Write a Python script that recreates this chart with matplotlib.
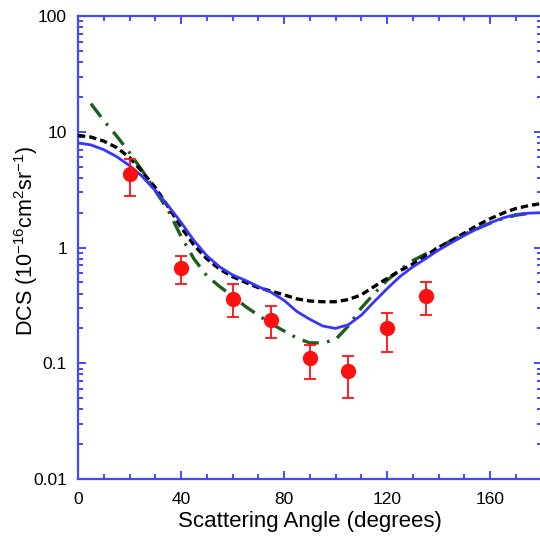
import matplotlib
matplotlib.use("Agg")
import matplotlib.pyplot as plt
from matplotlib.ticker import LogLocator, MultipleLocator, FixedFormatter, FixedLocator

plt.rcParams["font.family"] = ["Liberation Sans", "DejaVu Sans"]
plt.rcParams["mathtext.default"] = "regular"

# theory curves
angle = [0, 5, 10, 15, 20, 25, 30, 35, 40, 45, 50, 55, 60, 65, 70, 75, 80, 85, 90,
         95, 100, 105, 110, 115, 120, 125, 130, 135, 140, 145, 150, 155, 160, 165,
         170, 175, 180]
dcs_blue = [8.0, 7.7, 7.0, 6.1, 5.1, 4.1, 3.1, 2.3, 1.65, 1.15, 0.85, 0.68, 0.58,
            0.52, 0.46, 0.41, 0.35, 0.28, 0.24, 0.21, 0.2, 0.215, 0.26, 0.34, 0.44,
            0.56, 0.68, 0.8, 0.95, 1.1, 1.27, 1.45, 1.63, 1.8, 1.93, 1.98, 2.0]
dcs_black = [9.3, 9.0, 8.3, 7.3, 6.0, 4.5, 3.3, 2.25, 1.5, 1.05, 0.8, 0.65, 0.56,
             0.5, 0.45, 0.42, 0.39, 0.36, 0.345, 0.34, 0.34, 0.355, 0.39, 0.46,
             0.54, 0.63, 0.72, 0.85, 1.0, 1.15, 1.33, 1.55, 1.77, 1.98, 2.17, 2.3, 2.4]

angle_green = [5, 10, 15, 20, 25, 30, 35, 40, 45, 50, 55, 60, 65, 70, 75, 80, 85,
               90, 95, 100, 105, 110, 115, 120, 125, 130, 135, 140, 145, 150, 155,
               160, 165, 170, 175]
dcs_green = [17.5, 12.5, 9.2, 6.6, 4.6, 3.1, 2.1, 1.25, 0.8, 0.57, 0.46, 0.38, 0.31,
             0.26, 0.22, 0.19, 0.165, 0.15, 0.15, 0.16, 0.21, 0.3, 0.4, 0.52, 0.64,
             0.77, 0.88, 1.0, 1.15, 1.3, 1.45, 1.62, 1.78, 1.9, 1.97]

# measurements
exp_angle = [20, 40, 60, 75, 90, 105, 120, 135]
exp_dcs = [4.3, 0.67, 0.36, 0.235, 0.11, 0.085, 0.2, 0.38]
exp_hi = [5.8, 0.85, 0.48, 0.31, 0.145, 0.115, 0.27, 0.5]
exp_lo = [2.8, 0.48, 0.25, 0.165, 0.073, 0.05, 0.125, 0.26]

x_ticks = [0, 40, 80, 120, 160]
y_ticks = [0.01, 0.1, 1, 10, 100]
y_ticklabels = ["0.01", "0.1", "1", "10", "100"]

axis_blue = "#4747ff"

fig = plt.figure(figsize=(5.4, 5.4), dpi=100)
ax = fig.add_axes([78 / 540, 61 / 540, 463.5 / 540, 463 / 540])

ax.plot(angle_green, dcs_green, color="#1e5e1e", lw=2.4,
        dashes=(5, 2.5, 0.8, 2.5), zorder=2)
ax.plot(angle, dcs_black, color="black", lw=2.4, dashes=(2.2, 1.2), zorder=3)
ax.plot(angle, dcs_blue, color="#3535ff", lw=2.0, zorder=4)

err_lo = [d - lo for d, lo in zip(exp_dcs, exp_lo)]
err_hi = [hi - d for d, hi in zip(exp_dcs, exp_hi)]
ax.errorbar(exp_angle, exp_dcs, yerr=[err_lo, err_hi], fmt="o", color="#ff1010",
            ms=10, elinewidth=1.3, capsize=4, capthick=1.3, zorder=5)

ax.set_yscale("log")
ax.set_xlim(0, 180)
ax.set_ylim(0.01, 100)
ax.xaxis.set_major_locator(FixedLocator(x_ticks))
ax.xaxis.set_minor_locator(MultipleLocator(10))
ax.yaxis.set_major_locator(FixedLocator(y_ticks))
ax.yaxis.set_major_formatter(FixedFormatter(y_ticklabels))
ax.yaxis.set_minor_locator(LogLocator(base=10, subs=range(2, 10)))
ax.yaxis.set_minor_formatter(FixedFormatter([]))

for s in ax.spines.values():
    s.set_color(axis_blue)
    s.set_linewidth(1.6)
ax.tick_params(which="both", direction="in", top=True, right=True,
               color=axis_blue, width=1.4, labelsize=12.5)
ax.tick_params(axis="y", pad=8)
ax.tick_params(axis="x", pad=9)
ax.tick_params(which="major", length=6)
ax.tick_params(which="minor", length=3.5)

ax.set_xlabel("Scattering Angle (degrees)", fontsize=16, labelpad=3)
ax.set_ylabel("DCS (10$^{-16}$cm$^{2}$sr$^{-1}$)", fontsize=15.5)
ax.yaxis.set_label_coords(-0.083, 0.515)

fig.savefig("out.png", dpi=100)
